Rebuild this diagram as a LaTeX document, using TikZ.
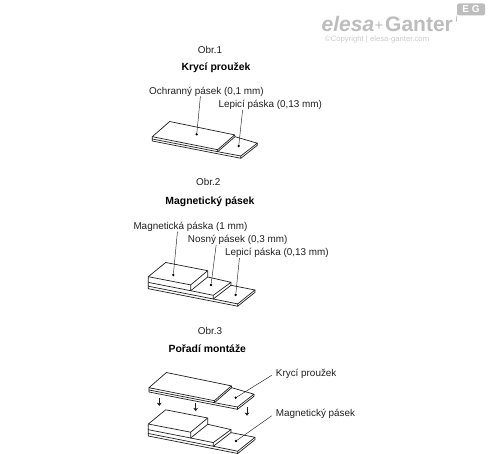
\documentclass[tikz,border=0pt]{standalone}
\usepackage{fontspec}
\setmainfont{Liberation Sans}
\usetikzlibrary{positioning, arrows.meta}
\definecolor{logogray}{gray}{0.74}
\definecolor{inkgray}{gray}{0.12}

\begin{document}
\begin{tikzpicture}[
    x=1pt,y=-1pt,
    >=Stealth,
    outline/.style={draw=inkgray, line width=0.7pt, line join=round},
    leader/.style={draw=inkgray, line width=0.45pt},
    spot/.style={circle, fill=black, inner sep=0pt, minimum size=2.6pt},
    label/.style={inner sep=0pt, anchor=west, font=\fontsize{9.9}{11}\selectfont, text=inkgray},
    heading/.style={inner sep=0pt, font=\fontsize{10.4}{11}\selectfont\bfseries, text=black},
    caption/.style={inner sep=0pt, font=\fontsize{9.9}{11}\selectfont, text=inkgray},
    down/.style={draw=inkgray, line width=0.5pt, -{Stealth[length=3.2pt,width=4.8pt]}},
    coverstrip/.pic={
        % top plate
        \draw[outline] (17.4,-15.2) -- (0,0) -- (65.4,13) -- (82.4,-1.8) -- cycle;
        \draw[outline] (0,0) -- (0,2.3) -- (65.4,15) -- (65.4,13);
        \draw[outline] (65.4,15) -- (82.7,0) -- (82.4,-1.8);
        % adhesive layer
        \draw[outline] (82.7,0) -- (105,6.5) -- (88.5,19.3) -- (65.4,15);
        \draw[outline] (0,2.3) -- (0,4.3) -- (88.5,21.6) -- (88.5,19.3);
        \draw[outline] (88.5,21.6) -- (105,8.6) -- (105,6.5);
    },
    magstrip/.pic={
        % magnet block
        \draw[outline] (17.4,-14.2) -- (0,0) -- (42.4,8.2) -- (59.4,-6) -- cycle;
        \draw[outline] (0,0) -- (0,5.7) -- (42.4,14) -- (42.4,8.2);
        \draw[outline] (42.4,14) -- (59.4,0.3) -- (59.4,-6);
        % carrier
        \draw[outline] (59.4,0.3) -- (82.7,5.6) -- (65,18.6) -- (42.4,14);
        \draw[outline] (0,5.7) -- (0,9.5) -- (65,22.3) -- (65,18.6);
        \draw[outline] (65,22.3) -- (82.7,8.6) -- (82.7,5.6);
        % adhesive layer
        \draw[outline] (82.7,8.6) -- (106.7,13.3) -- (89.4,27.2) -- (65,22.3);
        \draw[outline] (0,9.5) -- (0,12) -- (89.4,29.5) -- (89.4,27.2);
        \draw[outline] (89.4,29.5) -- (106.7,15.6) -- (106.7,13.3);
    },
]
\useasboundingbox (0,0) rectangle (488,454);

% logo
\node[inner sep=0pt, anchor=base west, text=logogray, font=\fontsize{21}{21}\selectfont\bfseries\itshape] (elesa) at (321.5,31.5) {elesa};
\node[inner sep=0pt, anchor=base west, text=logogray, font=\fontsize{15}{15}\selectfont] (plus) at (374.5,30.5) {+};
\node[inner sep=0pt, anchor=base west, text=logogray, font=\fontsize{21}{21}\selectfont\bfseries] (ganter) at (385,31.5) {Ganter};
\node[inner sep=0pt, anchor=west, text=logogray!80, font=\fontsize{7.7}{8}\selectfont] (copyright) at (325,39.5) {©Copyright | elesa-ganter.com};
\node[fill=logogray, rounded corners=2pt, minimum width=28pt, minimum height=12pt, inner sep=0pt, text=white, font=\fontsize{10}{10}\selectfont\bfseries] (eg) at (471,9.5) {E G};
\draw[draw=logogray, line width=0.8pt] (eg.south west) -- ++(-0.5,6);

% Obr.1
\node[caption] (obr1) at (210,50) {Obr.1};
\node[heading] (title1) at (216,67.7) {Krycí proužek};
\node[label] (ochranny) at (149,91.5) {Ochranný pásek (0,1 mm)};
\node[label] (lepici1) at (218.3,105) {Lepicí páska (0,13 mm)};
\pic at (152.3,136.7) {coverstrip};
\node[spot] (spot1a) at (196.7,134.3) {};
\node[spot] (spot1b) at (238.7,146) {};
\draw[leader] ([xshift=-6pt]ochranny.south) -- (spot1a);
\draw[leader] ([xshift=-27.6pt]lepici1.south) -- (spot1b);

% Obr.2
\node[caption] (obr2) at (208.3,181.7) {Obr.2};
\node[heading] (title2) at (210,201.7) {Magnetický pásek};
\node[label] (magneticka) at (133.3,226.7) {Magnetická páska (1 mm)};
\node[label] (nosny) at (187.7,240) {Nosný pásek (0,3 mm)};
\node[label] (lepici2) at (225,253.3) {Lepicí páska (0,13 mm)};
\pic at (148.3,276.7) {magstrip};
\node[spot] (spot2a) at (173.3,275) {};
\node[spot] (spot2b) at (211,285) {};
\node[spot] (spot2c) at (235.7,295) {};
\draw[leader] ([xshift=-13pt]magneticka.south) -- (spot2a);
\draw[leader] ([xshift=-21.5pt]nosny.south) -- (spot2b);
\draw[leader] ([xshift=-37.5pt]lepici2.south) -- (spot2c);

% Obr.3
\node[caption] (obr3) at (210,331) {Obr.3};
\node[heading] (title3) at (207.3,348.3) {Pořadí montáže};
\node[label] (cover) at (275.7,374.3) {Krycí proužek};
\node[label] (magnet) at (275.7,414.3) {Magnetický pásek};
\pic at (149,387.7) {coverstrip};
\pic at (148.3,424) {magstrip};
\node[spot] (spot3a) at (235.7,397.7) {};
\node[spot] (spot3b) at (236,441) {};
\draw[leader] ([xshift=-4pt,yshift=-1pt]cover.west) -- (spot3a);
\draw[leader] ([xshift=-4pt,yshift=-1.5pt]magnet.west) -- (spot3b);
\coordinate (from1) at (159.3,398.3);
\coordinate (from2) at (195.7,402.7);
\coordinate (from3) at (247,407.3);
\draw[down] (from1) -- ++(0,7.6);
\draw[down] (from2) -- ++(0,8.4);
\draw[down] (from3) -- ++(0,8.4);
\end{tikzpicture}
\end{document}
